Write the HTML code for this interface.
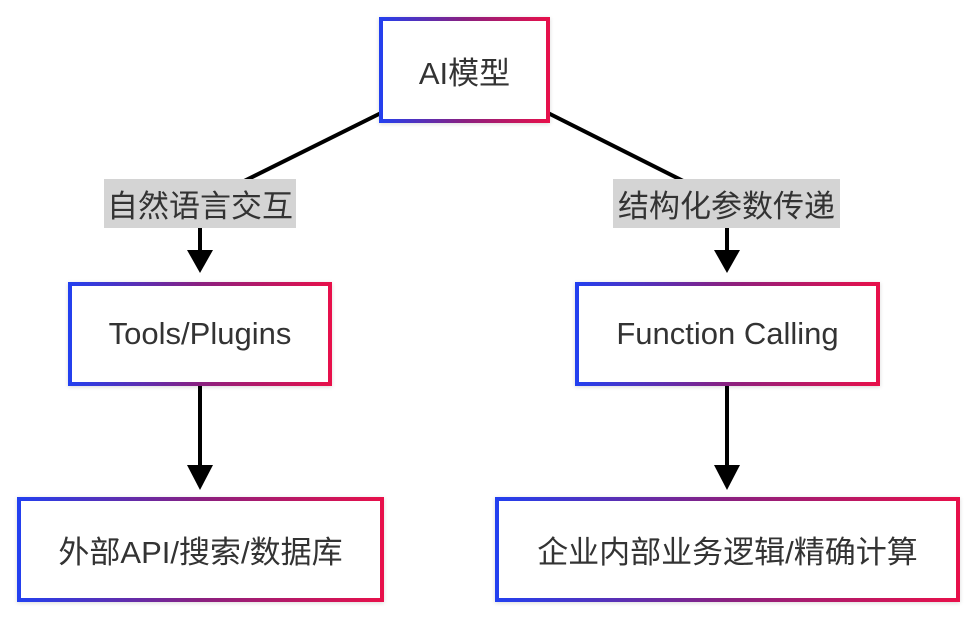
<!DOCTYPE html>
<html><head><meta charset="utf-8"><style>
body{margin:0;width:980px;height:621px;background:#fff;overflow:hidden;position:relative;font-family:"Liberation Sans","Noto Sans CJK SC",sans-serif;}
.b{position:absolute;box-sizing:border-box;border:4px solid transparent;background:linear-gradient(#fff,#fff) padding-box,linear-gradient(90deg,#2240f0,#8a2080,#e8104a) border-box;display:flex;align-items:center;justify-content:center;font-size:31px;color:#333;box-shadow:0 1px 4px rgba(0,0,0,.15);white-space:nowrap;}
.l{position:absolute;background:#d4d4d4;font-size:31px;color:#333;display:flex;align-items:center;justify-content:center;white-space:nowrap;}
svg{position:absolute;left:0;top:0}
</style></head><body>
<svg width="980" height="621">
<g stroke="#000" stroke-width="4">
<line x1="381" y1="113" x2="200" y2="203"/>
<line x1="548" y1="113" x2="727" y2="203"/>
<line x1="200" y1="228" x2="200" y2="252"/>
<line x1="727" y1="228" x2="727" y2="252"/>
<line x1="200" y1="386" x2="200" y2="468"/>
<line x1="727" y1="386" x2="727" y2="468"/>
</g>
<g fill="#000">
<polygon points="187,250 213,250 200,273"/>
<polygon points="714,250 740,250 727,273"/>
<polygon points="187,465 213,465 200,490"/>
<polygon points="714,465 740,465 727,490"/>
</g>
</svg>
<div class="b" style="left:379px;top:17px;width:171px;height:106px">AI模型</div>
<div class="l" style="left:104px;top:179px;width:192px;height:49px">自然语言交互</div>
<div class="l" style="left:613px;top:179px;width:227px;height:49px">结构化参数传递</div>
<div class="b" style="left:68px;top:282px;width:264px;height:104px">Tools/Plugins</div>
<div class="b" style="left:575px;top:282px;width:305px;height:104px">Function Calling</div>
<div class="b" style="left:17px;top:497px;width:367px;height:105px">外部API/搜索/数据库</div>
<div class="b" style="left:495px;top:497px;width:465px;height:105px">企业内部业务逻辑/精确计算</div>
</body></html>
